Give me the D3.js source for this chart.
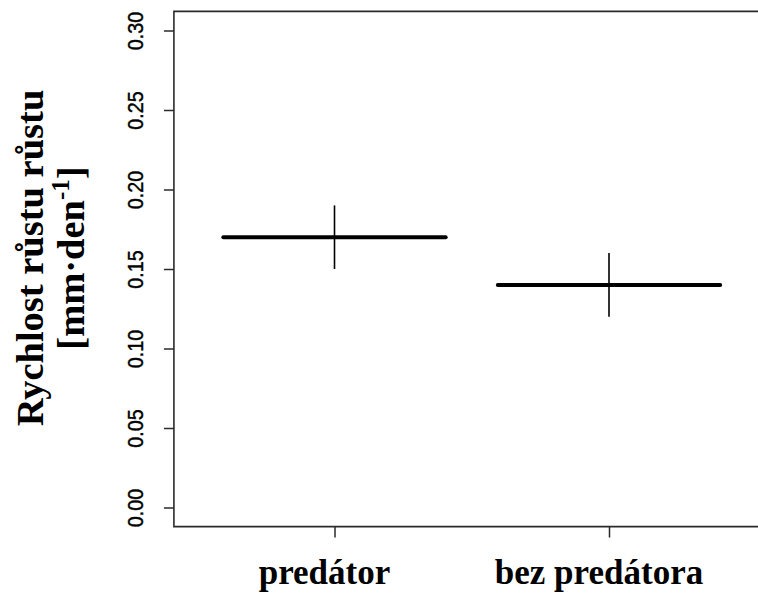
<!DOCTYPE html>
<html>
<head>
<meta charset="utf-8">
<script src="https://cdn.jsdelivr.net/npm/d3@7"></script>
<style>
  html, body { margin: 0; padding: 0; background: #fff; overflow: hidden; width: 758px; height: 594px; }
  svg { display: block; overflow: hidden; }
</style>
</head>
<body>
<script>
// Growth rate of the two groups: mean with lower/upper bound
const categories = ["predátor", "bez predátora"];
const means = [0.17, 0.14];
const lower = [0.15, 0.12];
const upper = [0.19, 0.16];
const yTicks = [0.00, 0.05, 0.10, 0.15, 0.20, 0.25, 0.30];
const yTitle = ["Rychlost růstu růstu", "[mm·den", "-1", "]"];

const W = 758, H = 594;
const svg = d3.select("body").append("svg").attr("width", W).attr("height", H);

// group positions 1 and 2, value axis 0..0.30
const x = d3.scaleLinear().domain([1, 2]).range([334.5, 609]);
const y = d3.scaleLinear().domain([0, 0.30]).range([507.5, 30.5]);

const xLim = [0.415, 2.585];
const yLim = [-0.012, 0.312];
const axisColor = "#2a2a2a";

// plot frame: top, left and bottom sides; the right side lies past the page edge
const fx0 = x(xLim[0]), fy0 = y(yLim[1]), fy1 = y(yLim[0]);
const fx1 = Math.min(x(xLim[1]), W);
svg.append("path")
  .attr("d", `M${fx1},${fy0}H${fx0}V${fy1}H${fx1}`)
  .attr("fill", "none").attr("stroke", axisColor).attr("stroke-width", 1.6);

// left axis
const yAxis = d3.axisLeft(y).tickValues(yTicks).tickFormat(d3.format(".2f")).tickSize(10).tickPadding(0);
const gy = svg.append("g").attr("transform", `translate(${fx0},0)`).call(yAxis);
gy.select(".domain").remove();
gy.selectAll(".tick line").attr("stroke", axisColor).attr("stroke-width", 1.5);
gy.selectAll(".tick text")
  .attr("fill", "#000")
  .attr("font-family", "'Liberation Sans', Arial, sans-serif")
  .attr("font-size", 22)
  .attr("stroke", "#000").attr("stroke-width", 0.4)
  .attr("text-anchor", "middle")
  .attr("dy", 0)
  .attr("x", 0)
  .attr("transform", "translate(-31,0) rotate(-90) scale(0.9,1)");

// bottom axis
const xAxis = d3.axisBottom(x).tickValues([1, 2]).tickFormat("").tickSize(11);
const gx = svg.append("g").attr("transform", `translate(0,${fy1})`).call(xAxis);
gx.select(".domain").remove();
gx.selectAll(".tick line").attr("stroke", axisColor).attr("stroke-width", 1.5);

// category labels
svg.selectAll("text.cat").data(categories).join("text")
  .attr("class", "cat")
  .attr("x", (d, i) => x(i + 1) - 10)
  .attr("y", 584)
  .attr("text-anchor", "middle")
  .attr("font-family", "'Liberation Serif', 'Times New Roman', serif")
  .attr("font-weight", "bold")
  .attr("font-size", 35)
  .attr("fill", "#000")
  .text(d => d);

// error bars
svg.selectAll("line.err").data(means).join("line")
  .attr("class", "err")
  .attr("x1", (d, i) => x(i + 1)).attr("x2", (d, i) => x(i + 1))
  .attr("y1", (d, i) => y(upper[i])).attr("y2", (d, i) => y(lower[i]))
  .attr("stroke", "#000").attr("stroke-width", 1.6);

// mean lines
svg.selectAll("line.mean").data(means).join("line")
  .attr("class", "mean")
  .attr("x1", (d, i) => x(i + 1 - 0.405)).attr("x2", (d, i) => x(i + 1 + 0.405))
  .attr("y1", d => y(d)).attr("y2", d => y(d))
  .attr("stroke", "#000").attr("stroke-width", 4).attr("stroke-linecap", "round");

// y axis title, two lines
const tg = svg.append("g").attr("transform", "translate(0,258) rotate(-90)");
const serif = "'Liberation Serif', 'Times New Roman', serif";
tg.append("text")
  .attr("x", 0).attr("y", 43)
  .attr("text-anchor", "middle")
  .attr("font-family", serif).attr("font-weight", "bold").attr("font-size", 38.5)
  .attr("fill", "#000")
  .text(yTitle[0]);
const t2 = tg.append("text")
  .attr("x", 0).attr("y", 84)
  .attr("text-anchor", "middle")
  .attr("font-family", serif).attr("font-weight", "bold").attr("font-size", 38.5)
  .attr("fill", "#000");
t2.append("tspan").text(yTitle[1]);
t2.append("tspan").attr("dy", -15).attr("font-size", 25).text(yTitle[2]);
t2.append("tspan").attr("dy", 15).text(yTitle[3]);
</script>
</body>
</html>
